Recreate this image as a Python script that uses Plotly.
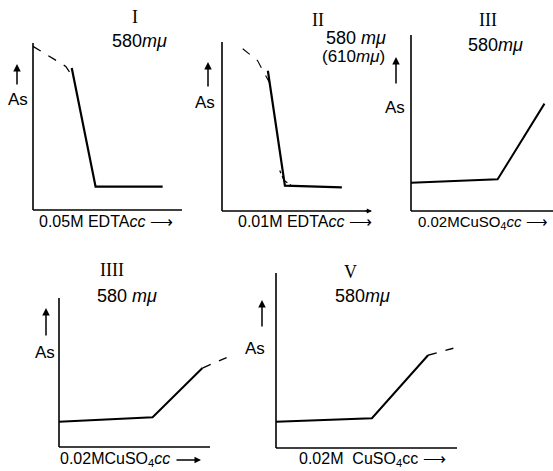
import plotly.graph_objects as go

W, H = 553, 471

# ---- data (As vs. titrant volume, arbitrary units; axis length = 10 x, 1 y) ----
I_solid_x = [2.6, 4.2, 8.7]
I_solid_y = [0.85, 0.14, 0.14]
I_dash_x = [0.0, 1.3, 2.2, 2.5]
I_dash_y = [0.98, 0.91, 0.86, 0.82]

II_solid_x = [3.1, 4.05, 4.25, 8.1]
II_solid_y = [0.83, 0.26, 0.15, 0.14]
II_dash_x = [1.4, 2.4, 3.2]
II_dash_y = [0.96, 0.89, 0.76]
II_dot_x = [3.9, 4.2, 4.7]
II_dot_y = [0.24, 0.18, 0.15]

III_x = [0.0, 6.1, 9.4]
III_y = [0.16, 0.18, 0.61]

IIII_x = [0.0, 6.2, 9.5]
IIII_y = [0.17, 0.20, 0.53]
IIII_dash_x = [9.5, 11.1]
IIII_dash_y = [0.53, 0.60]

V_x = [0.0, 5.3, 8.4]
V_y = [0.15, 0.17, 0.53]
V_dash_x = [8.4, 9.8]
V_dash_y = [0.53, 0.57]

titles = ["I", "II", "III", "IIII", "V"]
wavelengths = ["580<i>mμ</i>", "580 <i>mμ</i>", "580<i>mμ</i>", "580 <i>mμ</i>", "580<i>mμ</i>"]
xlabels = ["0.05M EDTA<i>cc</i> ⟶", "0.01M EDTA<i>cc</i> ⟶", "0.02MCuSO<sub>4</sub><i>cc</i> ⟶",
           "0.02MCuSO<sub>4</sub><i>cc</i>", "0.02M  CuSO<sub>4</sub>cc ⟶"]

# ---- layout geometry (pixels): x0, x1, ybottom, ytop of the drawn axes ----
panels = [
    dict(ax=(33, 182, 210, 43), extra=10),
    dict(ax=(222, 370, 211, 42), extra=10),
    dict(ax=(411, 553, 211, 35), extra=0),
    dict(ax=(59, 210, 447, 298), extra=25),
    dict(ax=(276, 457, 448, 273), extra=10),
]
title_pos = [(135, 17), (318, 20), (488, 20), (112, 270), (350, 272)]
wl_pos = [(139, 41), (356, 38), (495, 45), (127, 296), (362, 296)]
as_pos = [(18, 100), (205, 103), (395, 108), (45, 352), (255, 348)]
arrow_pos = [(17, 86, 64), (208, 88, 62), (396, 85, 57), (46, 337, 308), (262, 328, 300)]
xl_pos = [(106, 221, "center"), (305, 221, "center"), (550, 222, "right"),
          (115, 459, "center"), (372, 459, "center")]
xl_size = [16, 16, 15, 16, 16]

def px(x):
    return x / W

def py(y):
    return 1 - y / H

fig = go.Figure()
BLK = "black"
FONT = "Liberation Sans, Arial, sans-serif"
pad = 4

series = [
    [(I_dash_x, I_dash_y, "dash", 1.3), (I_solid_x, I_solid_y, "solid", 2.2)],
    [(II_dash_x, II_dash_y, "dash", 1.1), (II_solid_x, II_solid_y, "solid", 2.2),
     (II_dot_x, II_dot_y, "dot", 1.2)],
    [(III_x, III_y, "solid", 2.0)],
    [(IIII_x, IIII_y, "solid", 2.0), (IIII_dash_x, IIII_dash_y, "dash", 1.3)],
    [(V_x, V_y, "solid", 2.0), (V_dash_x, V_dash_y, "dash", 1.3)],
]

for i, p in enumerate(panels):
    x0, x1, yb, yt = p["ax"]
    xe = min(W, x1 + p["extra"])
    xs = "x" if i == 0 else f"x{i+1}"
    ys = "y" if i == 0 else f"y{i+1}"
    sx = 10.0 / (x1 - x0)
    sy = 1.0 / (yb - yt)
    dom_x = [px(x0 - pad), px(xe)]
    dom_y = [py(yb + pad), py(yt - pad)]
    xr = [-pad * sx, (xe - x0) * sx]
    yr = [-pad * sy, 1 + pad * sy]
    axk = "xaxis" if i == 0 else f"xaxis{i+1}"
    ayk = "yaxis" if i == 0 else f"yaxis{i+1}"
    fig.layout[axk] = dict(domain=dom_x, range=xr, visible=False, anchor=ys)
    fig.layout[ayk] = dict(domain=dom_y, range=yr, visible=False, anchor=xs)
    # axis lines
    fig.add_shape(type="line", xref=xs, yref=ys, x0=0, y0=0, x1=10, y1=0,
                  line=dict(color=BLK, width=1.6))
    fig.add_shape(type="line", xref=xs, yref=ys, x0=0, y0=0, x1=0, y1=1,
                  line=dict(color=BLK, width=1.6))
    for (xx, yy, dash, lw) in series[i]:
        fig.add_trace(go.Scatter(x=xx, y=yy, mode="lines", xaxis=xs, yaxis=ys,
                                 line=dict(color=BLK, width=lw, dash=dash),
                                 showlegend=False, hoverinfo="skip"))

annos = []
for i in range(5):
    tx, ty = title_pos[i]
    annos.append(dict(x=px(tx), y=py(ty), text=titles[i], showarrow=False,
                      font=dict(family="Liberation Serif, serif", size=18, color=BLK)))
    wx, wy = wl_pos[i]
    annos.append(dict(x=px(wx), y=py(wy), text=wavelengths[i], showarrow=False,
                      font=dict(family=FONT, size=18, color=BLK)))
    axp, ayp = as_pos[i]
    annos.append(dict(x=px(axp), y=py(ayp), text="As", showarrow=False,
                      font=dict(family=FONT, size=17, color=BLK)))
    ax_, yb_, yt_ = arrow_pos[i]
    annos.append(dict(x=px(ax_), y=py(yt_), xref="paper", yref="paper", text="",
                      showarrow=True, arrowhead=2, arrowsize=1, arrowwidth=1.5,
                      arrowcolor=BLK, ax=0, ay=(yb_ - yt_)))
    lx, ly, anc = xl_pos[i]
    annos.append(dict(x=px(lx), y=py(ly), text=xlabels[i], showarrow=False,
                      xanchor=anc, font=dict(family=FONT, size=xl_size[i], color=BLK)))

# extras: (610 mμ) note for panel II and separate arrow for panel IIII label
annos.append(dict(x=px(353), y=py(57), text="(610<i>mμ</i>)", showarrow=False,
                  font=dict(family=FONT, size=17, color=BLK)))
annos.append(dict(x=px(201), y=py(460), text="", showarrow=True, arrowhead=2,
                  arrowsize=1, arrowwidth=1.3, arrowcolor=BLK, ax=-26, ay=0))
# arrowhead at end of panel II x axis
annos.append(dict(x=px(372), y=py(211), text="", showarrow=True, arrowhead=2,
                  arrowsize=0.8, arrowwidth=1.3, arrowcolor=BLK, ax=-8, ay=0))

for a in annos:
    a.setdefault("xref", "paper")
    a.setdefault("yref", "paper")
    a.setdefault("xanchor", "center")
    a.setdefault("yanchor", "middle")

fig.update_layout(width=W, height=H, margin=dict(l=0, r=0, t=0, b=0),
                  paper_bgcolor="white", plot_bgcolor="rgba(0,0,0,0)",
                  annotations=annos, showlegend=False)

fig.write_html("out.html", config={"displayModeBar": False},
               post_script="document.body.style.margin='0';document.body.style.overflow='hidden';")
